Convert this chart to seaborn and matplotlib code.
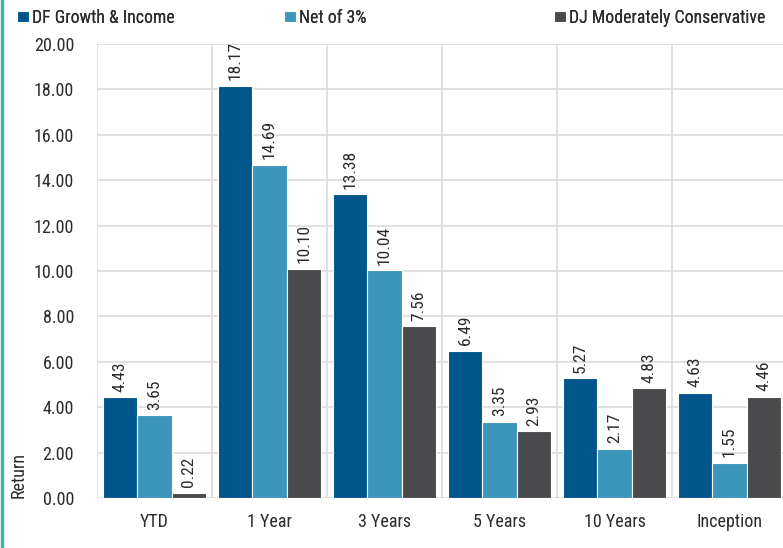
import matplotlib
matplotlib.use('Agg')
import matplotlib.pyplot as plt
from matplotlib.lines import Line2D
from matplotlib.ticker import FixedLocator
import seaborn as sns
import pandas as pd

periods = ["YTD", "1 Year", "3 Years", "5 Years", "10 Years", "Inception"]
series_names = ["DF Growth & Income", "Net of 3%", "DJ Moderately Conservative"]
df_growth = [4.43, 18.17, 13.38, 6.49, 5.27, 4.63]
net_of_3 = [3.65, 14.69, 10.04, 3.35, 2.17, 1.55]
dj_mod_cons = [0.22, 10.10, 7.56, 2.93, 4.83, 4.46]
colors = ["#00558a", "#3c96bb", "#4a4a4c"]
y_ticks = [0, 2, 4, 6, 8, 10, 12, 14, 16, 18, 20]

rows = []
for name, vals in zip(series_names, [df_growth, net_of_3, dj_mod_cons]):
    for p, v in zip(periods, vals):
        rows.append({"period": p, "ret": v, "series": name})
df = pd.DataFrame(rows)

sns.set_style("white")
# condensed look of the original; first installed one wins
plt.rcParams['font.family'] = ['Roboto Condensed', 'Archivo Narrow', 'PT Sans Narrow',
                               'Liberation Sans Narrow', 'DejaVu Sans']
GRID = "#dcdcdc"
TXT = "#2b2b2b"

fig = plt.figure(figsize=(7.83, 5.48), dpi=100)
ax = fig.add_axes([97 / 783, 50 / 548, 690 / 783, 454 / 548])

sns.barplot(data=df, x="period", y="ret", hue="series", order=periods,
            hue_order=series_names, palette=colors, saturation=1, width=0.9,
            edgecolor="white", linewidth=0.8, ax=ax)

for cont in ax.containers:
    ax.bar_label(cont, fmt="%.2f", rotation=90, padding=4, fontsize=12.5, color=TXT)

ax.set_ylim(0, 20)
ax.set_xlim(-0.5, 5.5)
ax.set_yticks(y_ticks)
ax.set_yticklabels([f"{t:.2f}" for t in y_ticks])
ax.xaxis.set_minor_locator(FixedLocator([i - 0.5 for i in range(7)]))

for s in ax.spines.values():
    s.set_visible(False)

ax.set_axisbelow(True)
ax.grid(True, axis="y", which="major", color=GRID, linewidth=1.2)
ax.grid(True, axis="x", which="minor", color=GRID, linewidth=1.2)
ax.tick_params(axis="y", which="major", length=9.5, width=1.2, color=GRID,
               pad=7, labelsize=13, labelcolor=TXT)
ax.tick_params(axis="x", which="major", length=0, pad=11, labelsize=13, labelcolor=TXT)
ax.tick_params(axis="x", which="minor", length=37, width=1.2, color=GRID, direction="out")

ax.set_xlabel("")
ax.set_ylabel("Return", fontsize=13, color=TXT)
ax.yaxis.set_label_coords(-0.10, 0.05)

handles, labels = ax.get_legend_handles_labels()
ax.get_legend().remove()
for h, lab, xpos in zip(handles, labels, [3 / 783, 270 / 783, 540 / 783]):
    leg = fig.legend([h], [lab], loc="upper left", bbox_to_anchor=(xpos, 1.01),
                     frameon=False, fontsize=12.8, handlelength=0.65, handleheight=0.65,
                     handletextpad=0.2, borderpad=0.3, labelcolor=TXT)
    fig.add_artist(leg)

fig.add_artist(Line2D([0.002, 0.002], [0, 1], transform=fig.transFigure,
                      color="#45b39b", linewidth=2.5))

plt.savefig("out.png", dpi=100)
plt.close()
